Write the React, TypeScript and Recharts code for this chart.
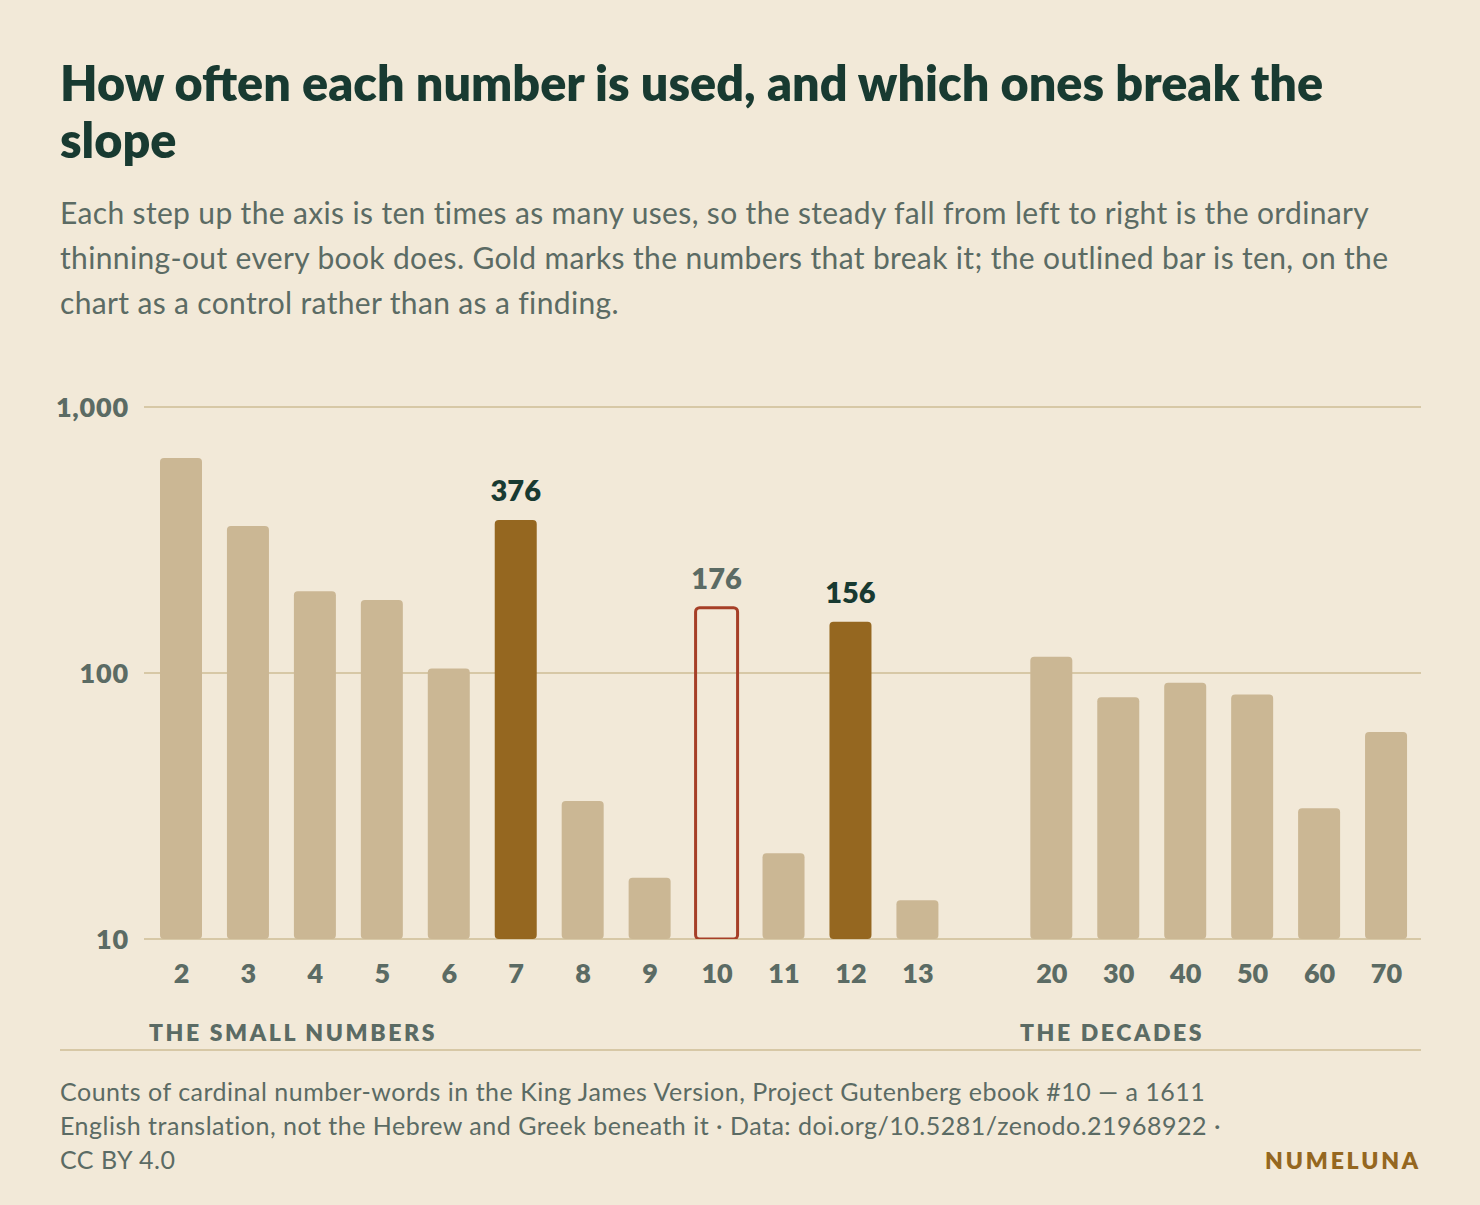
import { Bar, BarChart, CartesianGrid, Cell, LabelList, XAxis, YAxis } from "recharts";

const smallNumbers = ["2", "3", "4", "5", "6", "7", "8", "9", "10", "11", "12", "13"];
const smallCounts = [643, 357, 203, 188, 104, 376, 33, 17, 176, 21, 156, 14];
const decades = ["20", "30", "40", "50", "60", "70"];
const decadeCounts = [115, 81, 92, 83, 31, 60];
const goldNumbers = ["7", "12"];
const controlNumber = "10";
const yTicks = [10, 100, 1000];

const BG = "#f2e9d8";
const TAN = "#cbb794";
const GOLD = "#956720";
const RED = "#a63f27";
const INK = "#183a31";
const GREY = "#5b6b64";
const RULE = "#d7c8a6";
const FONT = "Lato, 'Open Sans', sans-serif";

// one empty slot between the two groups
const data = [
  ...smallNumbers.map((label, i) => ({ label, count: smallCounts[i] })),
  { label: "", count: null },
  ...decades.map((label, i) => ({ label, count: decadeCounts[i] })),
];

function BarValue(props: any) {
  const { x, y, width, value, index } = props;
  const label = data[index]?.label;
  const isGold = goldNumbers.includes(label);
  const isControl = label === controlNumber;
  if (!isGold && !isControl) return null;
  return (
    <text
      x={x + width / 2}
      y={y - 19}
      textAnchor="middle"
      fontFamily={FONT}
      fontSize={29}
      fontWeight={800}
      fill={isGold ? INK : GREY}
    >
      {value}
    </text>
  );
}

const groupLabel = {
  position: "absolute" as const,
  top: 1018,
  fontSize: 23,
  fontWeight: 800,
  letterSpacing: 2.6,
  color: GREY,
};

export default function App() {
  return (
    <div
      style={{
        position: "absolute",
        left: 0,
        top: 0,
        width: 1480,
        height: 1205,
        background: BG,
        fontFamily: FONT,
        overflow: "hidden",
      }}
    >
      <div
        style={{
          position: "absolute",
          left: 60,
          top: 54,
          fontSize: 48.5,
          lineHeight: "57px",
          fontWeight: 800,
          color: INK,
          whiteSpace: "nowrap",
        }}
      >
        How often each number is used, and which ones break the
        <br />
        slope
      </div>
      <div
        style={{
          position: "absolute",
          left: 60,
          top: 190,
          fontSize: 30,
          letterSpacing: 0.35,
          lineHeight: "45px",
          color: GREY,
          whiteSpace: "nowrap",
        }}
      >
        Each step up the axis is ten times as many uses, so the steady fall from left to right is the ordinary
        <br />
        thinning-out every book does. Gold marks the numbers that break it; the outlined bar is ten, on the
        <br />
        chart as a control rather than as a finding.
      </div>

      <div style={{ position: "absolute", left: 0, top: 380 }}>
        <BarChart
          width={1480}
          height={620}
          data={data}
          margin={{ top: 27, right: 59, bottom: 1, left: 0 }}
          barSize={42}
        >
          <CartesianGrid horizontal vertical={false} stroke={RULE} strokeWidth={2} />
          <XAxis
            dataKey="label"
            axisLine={false}
            tickLine={false}
            tickSize={0}
            tickMargin={25}
            height={60}
            interval={0}
            padding={{ left: 4, right: 1 }}
            tick={{ fill: GREY, fontSize: 27, fontWeight: 800, fontFamily: FONT }}
          />
          <YAxis
            scale="log"
            domain={[10, 1000]}
            allowDataOverflow
            ticks={yTicks}
            axisLine={false}
            tickLine={false}
            tickSize={0}
            tickMargin={15}
            width={144}
            tickFormatter={(v: number) => v.toLocaleString("en-US")}
            tick={{ fill: GREY, fontSize: 27, fontWeight: 800, fontFamily: FONT, letterSpacing: 0.8 }}
          />
          <Bar dataKey="count" radius={4} isAnimationActive={false}>
            {data.map((d, i) => {
              if (d.label === controlNumber) {
                return <Cell key={i} fill="none" stroke={RED} strokeWidth={3} />;
              }
              return <Cell key={i} fill={goldNumbers.includes(d.label) ? GOLD : TAN} />;
            })}
            <LabelList dataKey="count" content={<BarValue />} />
          </Bar>
        </BarChart>
      </div>

      <div style={{ ...groupLabel, left: 149 }}>THE SMALL NUMBERS</div>
      <div style={{ ...groupLabel, left: 1020 }}>THE DECADES</div>
      <div style={{ position: "absolute", left: 60, top: 1049, width: 1361, height: 2, background: RULE }} />

      <div
        style={{
          position: "absolute",
          left: 60,
          top: 1074,
          fontSize: 25,
          letterSpacing: 0.5,
          lineHeight: "34px",
          color: GREY,
          whiteSpace: "nowrap",
        }}
      >
        Counts of cardinal number-words in the King James Version, Project Gutenberg ebook #10 — a 1611
        <br />
        English translation, not the Hebrew and Greek beneath it · Data: doi.org/10.5281/zenodo.21968922 ·
        <br />
        CC BY 4.0
      </div>
      <div
        style={{
          position: "absolute",
          right: 59,
          top: 1146,
          fontSize: 23,
          fontWeight: 800,
          letterSpacing: 2.8,
          color: GOLD,
        }}
      >
        NUMELUNA
      </div>
    </div>
  );
}
